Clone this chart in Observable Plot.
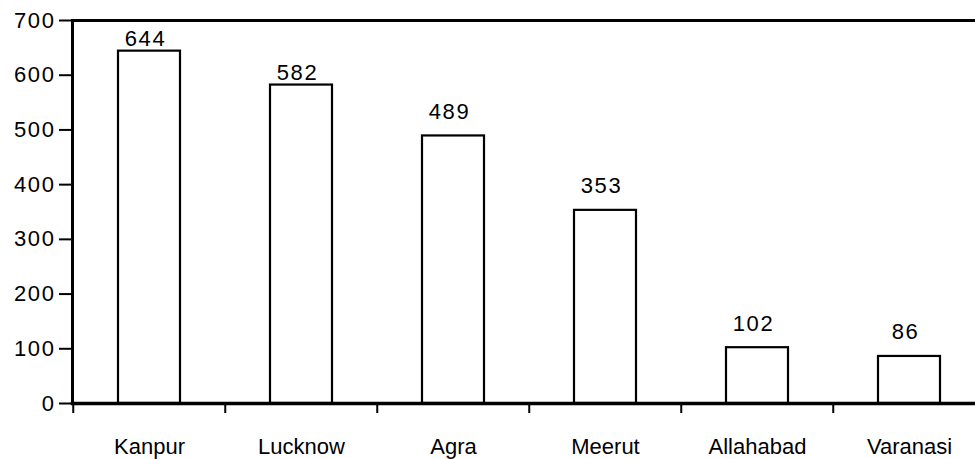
<!DOCTYPE html>
<html>
<head>
<meta charset="utf-8">
<script src="https://cdn.jsdelivr.net/npm/d3@7"></script>
<script src="https://cdn.jsdelivr.net/npm/@observablehq/plot@0.6"></script>
<style>
  html, body { margin: 0; padding: 0; background: #fff; overflow: hidden; }
  svg g[aria-label="y-axis tick label"] text,
  svg g[aria-label="text"] text { letter-spacing: 1.6px; }
</style>
</head>
<body>
<div id="chart"></div>
<script>
const cities = ["Kanpur", "Lucknow", "Agra", "Meerut", "Allahabad", "Varanasi"];
const values = [644, 582, 489, 353, 102, 86];
const yTicks = [0, 100, 200, 300, 400, 500, 600, 700];

const data = cities.map((city, i) => ({city, value: values[i]}));

const W = 975, H = 459;
const frameLeft = 72, frameTop = 20, frameBottom = 403;
const xRange = [frameLeft, 987];
const step = (xRange[1] - xRange[0]) / cities.length;
const font = "Liberation Sans, Arial, Helvetica, sans-serif";

const chart = Plot.plot({
  width: W,
  height: H,
  marginLeft: frameLeft,
  marginRight: 0,
  marginTop: frameTop,
  marginBottom: H - frameBottom,
  style: {fontFamily: font, fontSize: "22px", color: "#000", background: "#fff"},
  x: {type: "band", domain: cities, range: xRange, paddingInner: 0.59, paddingOuter: 0.295},
  y: {domain: [0, 700], range: [frameBottom, frameTop]},
  marks: [
    Plot.barY(data, {x: "city", y: "value", fill: "white", stroke: "black", strokeWidth: 2.2}),
    Plot.frame({anchor: "top", stroke: "black", strokeWidth: 3}),
    Plot.frame({anchor: "left", stroke: "black", strokeWidth: 3}),
    Plot.frame({anchor: "bottom", stroke: "black", strokeWidth: 3.5}),
    Plot.axisY({ticks: yTicks, tickSize: 13, tickPadding: 4, strokeWidth: 2, fontSize: 22, label: null}),
    Plot.ruleX(cities, {x: d => d, dx: -step / 2, insetTop: frameBottom - frameTop, insetBottom: -10, stroke: "black", strokeWidth: 2}),
    Plot.axisX({tickSize: 0, tickPadding: 34.5, fontSize: 22, label: null}),
    Plot.text(data, {filter: d => d.value > 550, x: "city", y: "value", text: d => String(d.value), dx: -4, dy: -12, fontSize: 22, fill: "black"}),
    Plot.text(data, {filter: d => d.value <= 550, x: "city", y: "value", text: d => String(d.value), dx: -4, dy: -24, fontSize: 22, fill: "black"})
  ]
});
document.getElementById("chart").appendChild(chart);
</script>
</body>
</html>
